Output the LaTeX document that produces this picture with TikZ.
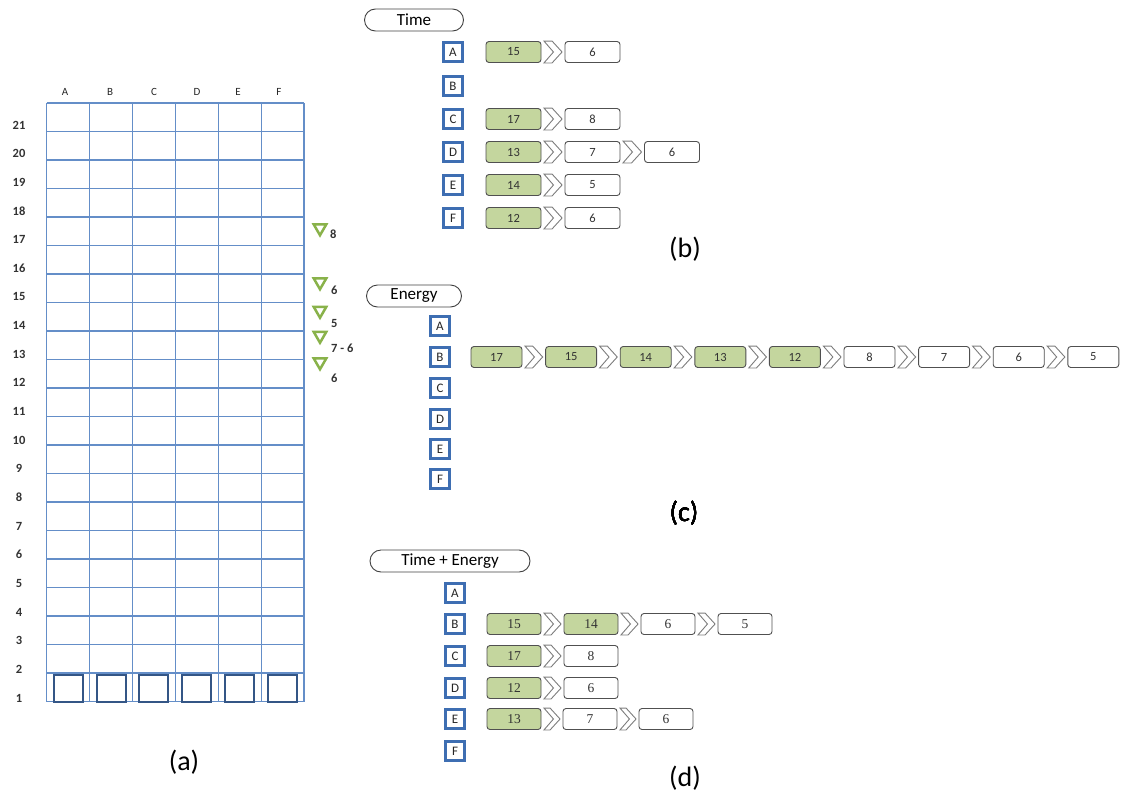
\documentclass[tikz,border=0pt]{standalone}
\usepackage{fontspec}
\setmainfont{Carlito}
\newfontfamily\serifnum{Liberation Serif}
\usetikzlibrary{shapes.geometric,calc}
\definecolor{gridblue}{RGB}{100,142,200}
\definecolor{sqblue}{RGB}{52,86,134}
\definecolor{lblue}{RGB}{62,110,178}
\definecolor{tgreen}{RGB}{137,178,74}
\definecolor{gfill}{RGB}{196,214,158}
\definecolor{bord}{RGB}{80,80,80}
\definecolor{chevc}{RGB}{125,125,125}
\tikzset{
 lbox/.style={draw=lblue, line width=3.2pt, fill=white, minimum width=19pt, minimum height=19pt, inner sep=0pt, font=\fontsize{13}{13}\selectfont, text=black!85},
 gbox/.style={draw=bord, line width=0.9pt, rounded corners=3pt, fill=gfill, minimum height=21pt, inner sep=0pt, font=\fontsize{12.5}{12.5}\selectfont, text=black!80},
 wbox/.style={gbox, fill=white},
 serifbox/.style={font=\serifnum\fontsize{13.5}{13.5}\selectfont},
 pill/.style={draw=black!75, line width=0.9pt, rounded corners=11pt, minimum height=22pt, inner sep=0pt, font=\fontsize{17}{17}\selectfont},
 chevst/.style={draw=chevc, line width=0.9pt, fill=white, line join=miter},
 tri/.style={regular polygon, regular polygon sides=3, shape border rotate=180, draw=tgreen, line width=2.5pt, minimum size=14.5pt, inner sep=0pt, fill=white},
 tlab/.style={anchor=west, font=\bfseries\fontsize{12.5}{12.5}\selectfont, text=black!80, inner sep=0pt},
 rowlab/.style={font=\bfseries\fontsize{12.5}{12.5}\selectfont, text=black!80},
 collab/.style={font=\fontsize{11}{11}\selectfont, text=black!85},
 captext/.style={font=\fontsize{28}{28}\selectfont},
 bsq/.style={draw=sqblue, line width=2pt, minimum width=29pt, minimum height=27pt, inner sep=0pt},
 wb/.style={minimum width=55pt},
 wc/.style={minimum width=51pt},
 wd/.style={minimum width=54pt},
}
\newcommand\chev[2]{%
  \coordinate (chvTR) at ($(#2.west)+(-12.5,0)$);
  \coordinate (chvN) at ($(#1.east)+(12,0)$);
  \draw[chevst] ($(#1.north east)+(2.5,0)$) -- (chvTR |- #1.north) -- ($(#2.west)+(-2.5,0)$) -- (chvTR |- #1.south) -- ($(#1.south east)+(2.5,0)$) -- (chvN) -- cycle;}
\begin{document}
\begin{tikzpicture}[x=1pt,y=-1pt]
\useasboundingbox (0,0) rectangle (1121,803);
% ---------- (a) grid ----------
\foreach \i in {0,...,6}
  \draw[gridblue, line width=1.2pt] ({46.7+\i*42.88},103) -- ({46.7+\i*42.88},701.5);
\foreach \j in {0,...,21}
  \draw[gridblue, line width=1.2pt] (46.7,{103+\j*28.5}) -- (304,{103+\j*28.5});
\foreach \l [count=\c from 0] in {A,B,C,D,E,F}
  \node[bsq] (sq\l) at ({46.7+42.88*(\c+0.5)},688) {};
\foreach \l/\x in {A/65,B/110,C/154,D/197,E/238,F/279}
  \node[collab] (col\l) at (\x,92) {\l};
\foreach \k in {1,...,21}
  \node[rowlab] (row\k) at (19,{125+(21-\k)*28.65}) {\k};
% triangles
\node[tri] (t1) at (320,228) {};
\node[tlab] (t1l) at (330,234) {8};
\node[tri] (t2) at (320,282) {};
\node[tlab] (t2l) at (331,290) {6};
\node[tri] (t3) at (320,310.5) {};
\node[tlab] (t3l) at (331,323) {5};
\node[tri] (t4) at (320,335.5) {};
\node[tlab] (t4l) at (331,348) {7 - 6};
\node[tri] (t5) at (320,362) {};
\node[tlab] (t5l) at (331,378) {6};
\node[captext] (capa) at (184,762) {(a)};
% ---------- (b) Time ----------
\node[pill, minimum width=99pt] (pb) at (414,20) {Time};
\foreach \l/\y in {A/52,B/86,C/119,D/152,E/185,F/218}
  \node[lbox] (b\l) at (453,\y) {\l};
\node[gbox,wb] (bA1) at (513.5,52) {15};
\node[wbox,wb] (bA2) at (592.5,52) {6};
\chev{bA1}{bA2}
\node[gbox,wb] (bC1) at (513.5,119) {17};
\node[wbox,wb] (bC2) at (592.5,119) {8};
\chev{bC1}{bC2}
\node[gbox,wb] (bD1) at (513.5,152) {13};
\node[wbox,wb] (bD2) at (592.5,152) {7};
\node[wbox,wb] (bD3) at (672,152) {6};
\chev{bD1}{bD2}
\chev{bD2}{bD3}
\node[gbox,wb] (bE1) at (513.5,185) {14};
\node[wbox,wb] (bE2) at (592.5,185) {5};
\chev{bE1}{bE2}
\node[gbox,wb] (bF1) at (513.5,218) {12};
\node[wbox,wb] (bF2) at (592.5,218) {6};
\chev{bF1}{bF2}
\node[captext] (capb) at (685,249) {(b)};
% ---------- (c) Energy ----------
\node[pill, minimum width=95pt] (pc) at (414,296) {Energy};
\foreach \l/\y in {A/326,B/357,C/388,D/419,E/449,F/479}
  \node[lbox] (c\l) at (440,\y) {\l};
\foreach \v [count=\k from 0] in {17,15,14,13,12}
  \node[gbox,wc] (cB\k) at ({496.5+\k*74.6},357) {\v};
\foreach \v [count=\k from 5] in {8,7,6,5}
  \node[wbox,wc] (cB\k) at ({496.5+\k*74.6},357) {\v};
\foreach \a/\b in {0/1,1/2,2/3,3/4,4/5,5/6,6/7,7/8}
  \chev{cB\a}{cB\b}
\node[captext] (capc) at (684,513) {(c)};
% ---------- (d) Time + Energy ----------
\node[pill, minimum width=160pt] (pd) at (450,561) {Time + Energy};
\foreach \l/\y in {A/593,B/624,C/656,D/688,E/719,F/751}
  \node[lbox] (d\l) at (455,\y) {\l};
\node[gbox,wd,serifbox] (dB1) at (514,624) {15};
\node[gbox,wd,serifbox] (dB2) at (591,624) {14};
\node[wbox,wd,serifbox] (dB3) at (668,624) {6};
\node[wbox,wd,serifbox] (dB4) at (745,624) {5};
\chev{dB1}{dB2}
\chev{dB2}{dB3}
\chev{dB3}{dB4}
\node[gbox,wd,serifbox] (dC1) at (514,656) {17};
\node[wbox,wd,serifbox] (dC2) at (591,656) {8};
\chev{dC1}{dC2}
\node[gbox,wd,serifbox] (dD1) at (514,688) {12};
\node[wbox,wd,serifbox] (dD2) at (591,688) {6};
\chev{dD1}{dD2}
\node[gbox,wd,serifbox] (dE1) at (514,719) {13};
\node[wbox,wd,serifbox] (dE2) at (590,719) {7};
\node[wbox,wd,serifbox] (dE3) at (666,719) {6};
\chev{dE1}{dE2}
\chev{dE2}{dE3}
\node[captext] (capd) at (685,778) {(d)};
\end{tikzpicture}
\end{document}
